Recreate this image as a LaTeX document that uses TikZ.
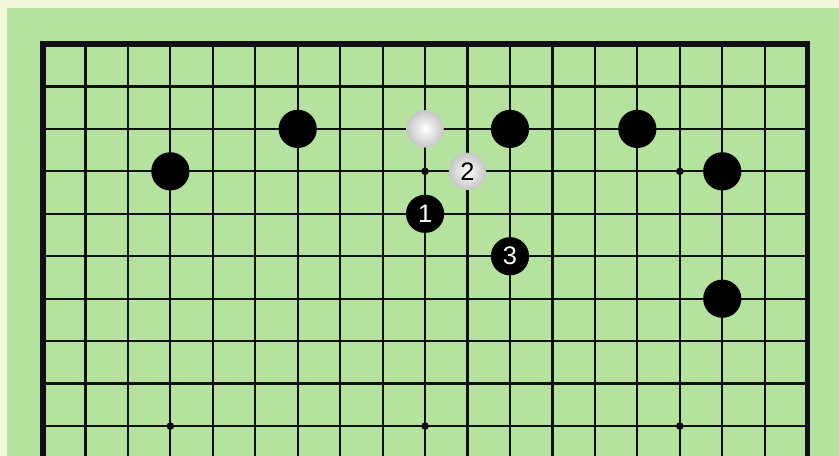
\documentclass[tikz,border=0pt]{standalone}
\usepackage{fontspec}
\setsansfont{Liberation Sans}
\usetikzlibrary{positioning}
\definecolor{felt}{HTML}{B6E2A0}
\definecolor{paper}{HTML}{F3F7DA}
\definecolor{ink}{HTML}{101010}
\tikzset{
  gridline/.style={ink,line width=1.5pt},
  edgeline/.style={ink,line width=3.4pt,line cap=rect},
  hoshi/.style={circle,fill=ink,inner sep=0pt,minimum size=0.18cm},
  bstone/.style={circle,fill=black,inner sep=0pt,minimum size=0.9cm,
                 text=white,font=\sffamily\fontsize{17}{17}\selectfont},
  wstone/.style={circle,shading=radial,inner color=white,outer color=gray!45,
                 inner sep=0pt,minimum size=0.88cm,
                 text=black,font=\sffamily\fontsize{17}{17}\selectfont},
}

\begin{document}
\begin{tikzpicture}
  % paper and board
  \fill[paper] (-1.013,1.036) rectangle (18.75,-9.705);
  \fill[felt] (-0.85,0.85) rectangle (18.75,-9.705);
  \useasboundingbox (-1.013,1.036) rectangle (18.75,-9.705);
  % grid
  \foreach \i in {1,...,17}{\draw[gridline] (\i,0) -- (\i,-9.705);}
  \foreach \j in {1,...,9}{\draw[gridline] (0,-\j) -- (18,-\j);}
  \draw[edgeline] (0,-9.705) -- (0,0) -- (18,0) -- (18,-9.705);
  % star points
  \foreach \i/\j in {9/3,15/3,3/9,9/9,15/9}{\node[hoshi](h\i-\j) at (\i,-\j){};}
  % stones
  \foreach \i/\j in {6/2,11/2,14/2,3/3,16/3,16/6}{\node[bstone](b\i-\j) at (\i,-\j){};}
  \node[wstone](w9-2) at (9,-2){};
  \node[wstone](m2) at (10,-3){2};
  \node[bstone](m1) at (9,-4){1};
  \node[bstone](m3) at (11,-5){3};
\end{tikzpicture}
\end{document}
